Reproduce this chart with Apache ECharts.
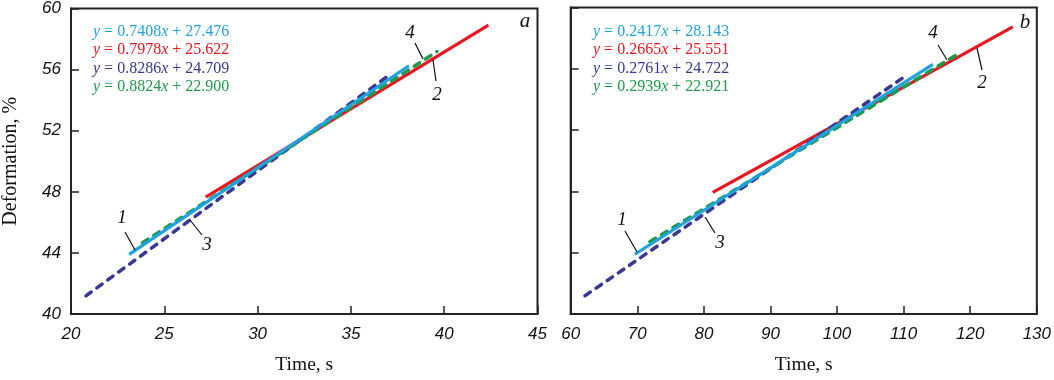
<!DOCTYPE html>
<html><head><meta charset="utf-8">
<script src="https://cdn.jsdelivr.net/npm/echarts@6/dist/echarts.min.js"></script>
<style>html,body{margin:0;padding:0;background:#fff}#c{width:1054px;height:380px}</style>
</head><body><div id="c"></div>
<script>
// ---- data ----
const xTicksA = [20, 25, 30, 35, 40, 45];
const xTicksB = [60, 70, 80, 90, 100, 110, 120, 130];
const yTicks = [40, 44, 48, 52, 56, 60];
// panel a: line endpoints [time, deformation]
const a1 = [[23.12, 43.90], [38.11, 56.25]];
const a2 = [[27.22, 47.65], [42.37, 58.91]];
const a3 = [[20.80, 41.19], [37.01, 55.60]];
const a4 = [[23.83, 44.66], [39.61, 57.18]];
// panel b
const b1 = [[69.64, 43.90], [114.39, 56.29]];
const b2 = [[81.34, 47.93], [126.39, 58.73]];
const b3 = [[62.14, 41.19], [110.29, 55.53]];
const b4 = [[71.89, 44.72], [118.54, 57.07]];
const eqA = [['0.7408', '27.476'], ['0.7978', '25.622'], ['0.8286', '24.709'], ['0.8824', '22.900']];
const eqB = [['0.2417', '28.143'], ['0.2665', '25.551'], ['0.2761', '24.722'], ['0.2939', '22.921']];
const lineNames = ['1', '2', '3', '4'];

const colors = ['#1ea3de', '#e8161f', '#3a3890', '#1e9a4c'];
const dashed = [false, false, true, true];
const zOrder = [5, 2, 3, 4];

const chart = echarts.init(document.getElementById('c'));
const serif = '"Liberation Serif", "Times New Roman", serif';
const sans = '"Liberation Sans", Arial, sans-serif';

function xAxis(idx, ticks) {
  return {
    type: 'value', gridIndex: idx, min: ticks[0], max: ticks[ticks.length - 1],
    interval: ticks[1] - ticks[0],
    axisLine: { show: true, lineStyle: { color: '#222', width: 2 } },
    axisTick: { show: true, inside: true, length: 8, lineStyle: { color: '#222', width: 1.5 } },
    axisLabel: { show: true, margin: 12, fontFamily: sans, fontStyle: 'italic', fontSize: 17, color: '#111' },
    splitLine: { show: false },
    name: 'Time, s', nameLocation: 'middle', nameGap: 41,
    nameTextStyle: { fontFamily: serif, fontSize: 19.5, color: '#111' }
  };
}
function yAxis(idx, showLabels) {
  return {
    type: 'value', gridIndex: idx, min: yTicks[0], max: yTicks[yTicks.length - 1], interval: yTicks[1] - yTicks[0],
    axisLine: { show: true, lineStyle: { color: '#222', width: 2 } },
    axisTick: { show: true, inside: true, length: 8, lineStyle: { color: '#222', width: 1.5 } },
    axisLabel: { show: showLabels, margin: 10, fontFamily: sans, fontStyle: 'italic', fontSize: 17, color: '#111' },
    splitLine: { show: false },
    name: showLabels ? 'Deformation, %' : '', nameLocation: 'middle', nameGap: 50,
    nameTextStyle: { fontFamily: serif, fontSize: 20, color: '#111' }
  };
}
function mkSeries(data, i, gi) {
  return {
    type: 'line', xAxisIndex: gi, yAxisIndex: gi, data: data, symbol: 'none', silent: true,
    lineStyle: { color: colors[i], width: dashed[i] ? 3.5 : 3.2, type: dashed[i] ? [6.5, 7] : 'solid', cap: dashed[i] ? 'round' : 'butt' },
    z: zOrder[i]
  };
}
const seriesA = [a1, a2, a3, a4].map((d, i) => mkSeries(d, i, 0));
const seriesB = [b1, b2, b3, b4].map((d, i) => mkSeries(d, i, 1));

function eqGraphics(eqs, left) {
  return eqs.map((e, i) => ({
    type: 'text', left: left, top: 24 + i * 18.2, z: 10,
    style: {
      text: '{i|y} = ' + e[0] + '{i|x} + ' + e[1],
      fill: colors[i], font: '16px ' + serif,
      rich: { i: { fontStyle: 'italic', fontFamily: serif, fontSize: 16, fill: colors[i] } }
    }
  }));
}
function label(t, x, y, size) {
  return { type: 'text', x: x, y: y, z: 10, style: { text: t, font: 'italic ' + (size || 19) + 'px ' + serif, fill: '#111', textAlign: 'center', textVerticalAlign: 'middle' } };
}
function leader(x1, y1, x2, y2) {
  return { type: 'line', z: 10, shape: { x1: x1, y1: y1, x2: x2, y2: y2 }, style: { stroke: '#111', lineWidth: 1.2 } };
}

chart.setOption({
  animation: false,
  grid: [
    { left: 70, top: 7.5, width: 467.5, height: 307.5, show: true, borderColor: '#222', borderWidth: 2 },
    { left: 570.7, top: 7.5, width: 466.6, height: 307.5, show: true, borderColor: '#222', borderWidth: 2 }
  ],
  xAxis: [xAxis(0, xTicksA), xAxis(1, xTicksB)],
  yAxis: [yAxis(0, true), yAxis(1, false)],
  series: seriesA.concat(seriesB),
  graphic: [].concat(
    eqGraphics(eqA, 93), eqGraphics(eqB, 593),
    [
      label('a', 525, 21, 21), label('b', 1025, 22, 21),
      label(lineNames[0], 122, 218), leader(125, 232, 135, 250),
      label(lineNames[2], 207, 245), leader(190, 220, 202, 235),
      label(lineNames[3], 410, 33), leader(415, 43, 423, 59),
      label(lineNames[1], 437, 95), leader(433, 60, 436, 81),
      label(lineNames[0], 622, 220), leader(625, 231, 637, 252),
      label(lineNames[2], 720, 243), leader(705, 217, 715, 233),
      label(lineNames[3], 933, 33), leader(938, 45, 947, 60),
      label(lineNames[1], 982, 83), leader(977, 48, 982, 70)
    ]
  )
});
</script>
</body></html>
